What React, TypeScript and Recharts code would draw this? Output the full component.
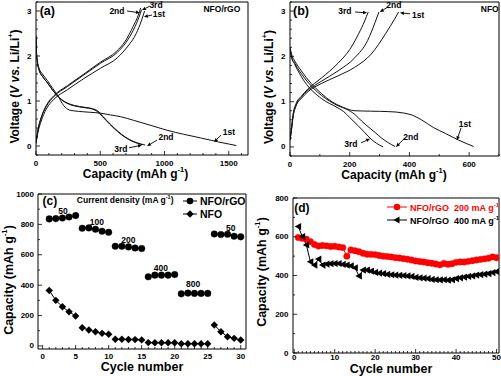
import React from "react";
import {
  LineChart,
  Line,
  XAxis,
  YAxis,
  Label,
  Legend,
  ReferenceArea,
  ReferenceDot,
  ReferenceLine,
} from "recharts";

const FONT = "'Liberation Sans', Arial, Helvetica, sans-serif";

// (a) NFO/rGO galvanostatic curves, [capacity mAh/g, voltage V]
const aDis1 = [[0, 2.45], [4, 2.1], [10, 1.9], [25, 1.72], [50, 1.6], [90, 1.45], [130, 1.28], [170, 1.12], [215, 0.9], [260, 0.8], [330, 0.77], [420, 0.75], [500, 0.73], [580, 0.69], [660, 0.65], [760, 0.57], [880, 0.47], [1020, 0.35], [1150, 0.26], [1280, 0.18], [1420, 0.09], [1560, 0.01]];
const aDis2 = [[0, 2.4], [4, 2.05], [10, 1.88], [25, 1.68], [50, 1.55], [90, 1.4], [130, 1.24], [180, 1.08], [240, 0.96], [300, 0.9], [380, 0.86], [440, 0.83], [480, 0.78], [520, 0.66], [580, 0.48], [640, 0.32], [700, 0.19], [760, 0.1], [810, 0.05], [850, 0.02]];
const aDis3 = [[0, 2.4], [4, 2.05], [10, 1.88], [25, 1.68], [50, 1.55], [90, 1.4], [130, 1.24], [180, 1.07], [240, 0.95], [300, 0.89], [380, 0.85], [440, 0.82], [475, 0.77], [515, 0.66], [575, 0.48], [635, 0.32], [690, 0.2], [745, 0.11], [790, 0.06], [825, 0.03]];
const aCh1 = [[0, 0.05], [15, 0.3], [40, 0.55], [80, 0.82], [140, 1.04], [244, 1.25], [373, 1.5], [503, 1.73], [633, 1.96], [710, 2.2], [780, 2.5], [820, 2.78], [845, 3.0]];
const aCh2 = [[0, 0.08], [15, 0.35], [40, 0.62], [80, 0.88], [140, 1.1], [244, 1.32], [373, 1.58], [503, 1.84], [633, 2.08], [700, 2.3], [762, 2.6], [800, 2.85], [822, 3.03]];
const aCh3 = [[0, 0.08], [15, 0.36], [40, 0.63], [80, 0.9], [140, 1.12], [244, 1.34], [373, 1.6], [500, 1.86], [625, 2.1], [695, 2.33], [755, 2.65], [795, 2.9], [815, 3.07]];

// (b) NFO
const bDis1 = [[0, 2.2], [5, 2.05], [16, 1.9], [38, 1.68], [71, 1.4], [105, 1.18], [140, 1.0], [180, 0.87], [215, 0.8], [270, 0.79], [330, 0.78], [380, 0.75], [410, 0.7], [440, 0.6], [480, 0.43], [520, 0.3], [565, 0.15], [615, 0.01]];
const bDis2 = [[0, 2.2], [5, 2.0], [16, 1.85], [49, 1.52], [105, 1.14], [161, 0.91], [190, 0.83], [217, 0.72], [240, 0.57], [261, 0.45], [285, 0.32], [306, 0.2], [330, 0.09], [352, 0.01]];
const bDis3 = [[0, 2.15], [5, 1.98], [16, 1.82], [49, 1.44], [105, 1.07], [161, 0.86], [180, 0.78], [200, 0.65], [228, 0.47], [250, 0.32], [272, 0.17], [290, 0.08], [312, 0.0]];
const bCh1 = [[0, 0.15], [5, 0.38], [10, 0.65], [20, 0.9], [38, 1.07], [60, 1.22], [105, 1.4], [161, 1.57], [217, 1.76], [272, 2.05], [320, 2.5], [350, 2.82], [364, 2.98]];
const bCh2 = [[0, 0.15], [5, 0.4], [10, 0.68], [20, 0.92], [38, 1.1], [60, 1.25], [105, 1.45], [161, 1.68], [217, 1.97], [260, 2.35], [285, 2.75], [298, 2.98]];
const bCh3 = [[0, 0.15], [5, 0.4], [10, 0.7], [20, 0.95], [38, 1.12], [60, 1.28], [105, 1.52], [161, 1.85], [200, 2.15], [230, 2.5], [250, 2.78], [262, 2.98]];

// curve labels and arrows (data units)
const aNotes = [
  { text: "2nd", x: 630, y: 3.0 },
  { text: "3rd", x: 934, y: 3.13 },
  { text: "1st", x: 957, y: 2.93 },
  { text: "1st", x: 1502, y: 0.31 },
  { text: "2nd", x: 1012, y: 0.2 },
  { text: "3rd", x: 661, y: -0.07 },
];
const aArrows = [
  [708, 3.0, 809, 2.96],
  [887, 3.11, 825, 3.02],
  [903, 2.91, 840, 2.87],
  [1440, 0.24, 1385, 0.09],
  [942, 0.13, 864, 0.0],
  [724, -0.04, 825, 0.02],
];
const bNotes = [
  { text: "3rd", x: 184, y: 3.0 },
  { text: "2nd", x: 348, y: 3.13 },
  { text: "1st", x: 429, y: 2.91 },
  { text: "1st", x: 586, y: 0.51 },
  { text: "2nd", x: 405, y: 0.22 },
  { text: "3rd", x: 204, y: 0.07 },
];
const bArrows = [
  [218, 2.98, 258, 2.96],
  [328, 3.09, 301, 2.98],
  [402, 2.94, 368, 2.96],
  [573, 0.42, 559, 0.15],
  [385, 0.2, 355, 0.0],
  [238, 0.09, 268, 0.18],
];

// (c) rate capability, five cycles per current density
const cCycles = [1, 2, 3, 4, 5, 6, 7, 8, 9, 10, 11, 12, 13, 14, 15, 16, 17, 18, 19, 20, 21, 22, 23, 24, 25, 26, 27, 28, 29, 30];
const cRgo = [836, 838, 842, 849, 858, 775, 777, 768, 755, 748, 656, 656, 652, 645, 641, 455, 466, 466, 466, 470, 343, 348, 346, 346, 346, 737, 733, 735, 722, 718];
const cNfo = [365, 300, 258, 225, 197, 120, 105, 94, 83, 77, 44, 44, 43, 42, 40, 22, 21, 21, 21, 21, 15, 15, 15, 15, 15, 138, 94, 61, 50, 39];
const cRates = [
  { text: "50", x: 3.1, y: 888 },
  { text: "100", x: 8.2, y: 814 },
  { text: "200", x: 13.0, y: 697 },
  { text: "400", x: 17.9, y: 511 },
  { text: "800", x: 22.8, y: 408 },
  { text: "50", x: 28.5, y: 778 },
];

// (d) cycling
const dCycles = [1, 2, 3, 4, 5, 6, 7, 8, 9, 10, 11, 12, 13, 14, 15, 16, 17, 18, 19, 20, 21, 22, 23, 24, 25, 26, 27, 28, 29, 30, 31, 32, 33, 34, 35, 36, 37, 38, 39, 40, 41, 42, 43, 44, 45, 46, 47, 48, 49, 50];
const d200 = [596, 592, 587, 575, 560, 552, 555, 553, 550, 551, 547, 544, 500, 532, 528, 523, 515, 510, 509, 508, 503, 500, 498, 496, 492, 490, 487, 484, 480, 475, 472, 470, 466, 463, 459, 455, 462, 458, 461, 468, 470, 470, 473, 476, 480, 483, 486, 489, 496, 492];
const d400 = [653, 601, 558, 471, 454, 485, 454, 459, 461, 462, 462, 457, 454, 450, 440, 398, 428, 428, 423, 416, 412, 410, 406, 404, 402, 401, 400, 398, 395, 390, 388, 386, 384, 380, 378, 377, 378, 376, 378, 384, 388, 392, 395, 398, 402, 405, 407, 410, 415, 420];

const toXY = (pts: number[][]) => pts.map(([x, y]) => ({ x, y }));
const cData = cCycles.map((c, i) => ({ cycle: c, grp: Math.floor((c - 1) / 5), rgo: cRgo[i], nfo: cNfo[i] }));
const cGroups = [0, 1, 2, 3, 4, 5];
const dData = dCycles.map((c, i) => ({ cycle: c, r200: d200[i], r400: d400[i] }));

const range = (from: number, to: number, step: number) => {
  const out: number[] = [];
  for (let i = 0; from + i * step <= to + 1e-9; i++) out.push(+(from + i * step).toFixed(4));
  return out;
};
const isMajor = (v: number, step: number) => Math.abs(v / step - Math.round(v / step)) < 1e-6;

const xTick = (step: number, dy: number) => (p: any) => {
  const { x, y, payload } = p;
  const major = isMajor(payload.value, step);
  return (
    <g>
      <line x1={x} x2={x} y1={y} y2={y - (major ? 4 : 2)} stroke="#000" strokeWidth={0.8} />
      {major && (
        <text x={x} y={y + dy} textAnchor="middle" dominantBaseline="central" fontSize={8} fontWeight="bold" fontFamily={FONT} fill="#000">
          {payload.value}
        </text>
      )}
    </g>
  );
};

const yTick = (step: number, gap: number) => (p: any) => {
  const { x, y, payload } = p;
  const major = isMajor(payload.value, step);
  return (
    <g>
      <line x1={x} x2={x + (major ? 4 : 2)} y1={y} y2={y} stroke="#000" strokeWidth={0.8} />
      {major && (
        <text x={x - gap} y={y} textAnchor="end" dominantBaseline="central" fontSize={8} fontWeight="bold" fontFamily={FONT} fill="#000">
          {payload.value}
        </text>
      )}
    </g>
  );
};

const capTitle = (size: number) => (
  <>
    Capacity (mAh g<tspan dy={-size * 0.4} fontSize={size * 0.62}>-1</tspan>
    <tspan dy={size * 0.4}>)</tspan>
  </>
);
const voltTitle = (size: number) => (
  <>
    Voltage (<tspan fontStyle="italic">V vs.</tspan> Li/Li<tspan dy={-size * 0.4} fontSize={size * 0.62}>+</tspan>
    <tspan dy={size * 0.4}>)</tspan>
  </>
);

const xTitle = (content: React.ReactNode, size: number, dx: number, dy: number) => (p: any) => {
  const vb = p.viewBox;
  return (
    <text x={vb.x + vb.width / 2 + dx} y={vb.y + dy} textAnchor="middle" dominantBaseline="central" fontSize={size} fontWeight="bold" fontFamily={FONT} fill="#000">
      {content}
    </text>
  );
};
const yTitle = (content: React.ReactNode, size: number, cx: number, dy: number) => (p: any) => {
  const vb = p.viewBox;
  const x = vb.x + cx;
  const y = vb.y + vb.height / 2 + dy;
  return (
    <text x={x} y={y} transform={`rotate(-90 ${x} ${y})`} textAnchor="middle" dominantBaseline="central" fontSize={size} fontWeight="bold" fontFamily={FONT} fill="#000">
      {content}
    </text>
  );
};

const tag = (content: React.ReactNode, size = 8.5, anchor = "middle") => (p: any) => {
  const vb = p.viewBox || {};
  return (
    <text x={vb.x + (vb.width || 0) / 2} y={vb.y + (vb.height || 0) / 2} textAnchor={anchor} dominantBaseline="central" fontSize={size} fontWeight="bold" fontFamily={FONT} fill="#000">
      {content}
    </text>
  );
};

const arrow = (p: any) => {
  const { x1, y1, x2, y2 } = p;
  const a = Math.atan2(y2 - y1, x2 - x1);
  const L = 4;
  const W = 1.8;
  const bx = x2 - L * Math.cos(a);
  const by = y2 - L * Math.sin(a);
  const pts = `${x2},${y2} ${bx - W * Math.sin(a)},${by + W * Math.cos(a)} ${bx + W * Math.sin(a)},${by - W * Math.cos(a)}`;
  return (
    <g>
      <line x1={x1} y1={y1} x2={bx} y2={by} stroke="#000" strokeWidth={0.9} />
      <polygon points={pts} fill="#000" />
    </g>
  );
};

const circleDot = (r: number, color: string) => (p: any) =>
  p.cy == null || p.value == null ? (
    <g key={`c${p.index}`} />
  ) : (
    <circle key={`c${p.index}`} cx={p.cx} cy={p.cy} r={r} fill={color} stroke={color} strokeWidth={0.4} />
  );
const diamondDot = (s: number) => (p: any) =>
  p.cy == null || p.value == null ? (
    <g key={`d${p.index}`} />
  ) : (
    <path key={`d${p.index}`} d={`M${p.cx},${p.cy - s}L${p.cx + s},${p.cy}L${p.cx},${p.cy + s}L${p.cx - s},${p.cy}Z`} fill="#000" />
  );
const leftTriDot = (s: number) => (p: any) => (
  <path key={`t${p.index}`} d={`M${p.cx - s},${p.cy}L${p.cx + s * 0.8},${p.cy - s}L${p.cx + s * 0.8},${p.cy + s}Z`} fill="#000" />
);

const Curves = ({
  series, notes, arrows, xMax, xStep, xMajor, xDx, yAxisW, xAxisH, corner, cornerX, tagName, tagX, width,
}: any) => (
  <LineChart width={width} height={185} margin={{ top: 2, right: 2, bottom: 0, left: 0 }}>
    <XAxis dataKey="x" type="number" domain={[0, xMax]} allowDataOverflow ticks={range(0, xMax, xStep)} interval={0}
      tick={xTick(xMajor, 8)} tickLine={false} tickSize={0} tickMargin={0} axisLine={false} height={xAxisH}>
      <Label content={xTitle(capTitle(12), 12, xDx, 19)} />
    </XAxis>
    <YAxis type="number" domain={[-0.2, 3.2]} allowDataOverflow ticks={range(-0.2, 3.2, 0.2)} interval={0}
      tick={yTick(1, 4.5)} tickLine={false} tickSize={0} tickMargin={0} axisLine={false} width={yAxisW}>
      <Label content={yTitle(voltTitle(12), 12, yAxisW === 36 ? 15 : 19, 8)} />
    </YAxis>
    <ReferenceArea x1={0} x2={xMax} y1={-0.2} y2={3.2} fill="none" stroke="#000" strokeWidth={1} ifOverflow="visible" />
    {series.map((s: number[][], i: number) => (
      <Line key={i} name={`s${i}`} data={toXY(s)} dataKey="y" type="monotone" stroke="#111" strokeWidth={1}
        dot={false} activeDot={false} isAnimationActive={false} />
    ))}
    {arrows.map((a: number[], i: number) => (
      <ReferenceLine key={`ar${i}`} segment={[{ x: a[0], y: a[1] }, { x: a[2], y: a[3] }]} shape={arrow} ifOverflow="visible" />
    ))}
    {notes.map((n: any, i: number) => (
      <ReferenceDot key={`n${i}`} x={n.x} y={n.y} r={0} fill="none" stroke="none" label={tag(n.text, 8.5)} ifOverflow="visible" />
    ))}
    <ReferenceDot x={cornerX} y={3.0} r={0} fill="none" stroke="none" label={tag(corner, 12.5)} ifOverflow="visible" />
    <ReferenceDot x={tagX} y={3.04} r={0} fill="none" stroke="none" label={tag(tagName, 8.5)} ifOverflow="visible" />
  </LineChart>
);

const legendRow = (marker: React.ReactNode, text: React.ReactNode, color: string, w: number) => (
  <div style={{ display: "flex", alignItems: "center", height: 13, color }}>
    <svg width={w} height={10} style={{ marginRight: 3 }}>
      <line x1={0} x2={w} y1={5} y2={5} stroke={color} strokeWidth={1} />
      {marker}
    </svg>
    <span style={{ whiteSpace: "pre" }}>{text}</span>
  </div>
);

const legendC = () => (
  <div style={{ fontFamily: FONT, fontSize: 10.5, fontWeight: "bold", lineHeight: "13px" }}>
    {legendRow(<circle cx={7} cy={5} r={3.3} fill="#000" />, "NFO/rGO", "#000", 14)}
    {legendRow(<path d="M7,1.3L10.7,5L7,8.7L3.3,5Z" fill="#000" />, "NFO", "#000", 14)}
  </div>
);

const legendD = () => (
  <div style={{ fontFamily: FONT, fontSize: 9, fontWeight: "bold", lineHeight: "13px" }}>
    {legendRow(<circle cx={10} cy={5} r={3.3} fill="#f00" />, <>NFO/rGO  200 mA g<sup style={{ fontSize: 6 }}>-1</sup></>, "#f00", 20)}
    {legendRow(<path d="M6.5,5L12.5,1.5L12.5,8.5Z" fill="#000" />, <>NFO/rGO  400 mA g<sup style={{ fontSize: 6 }}>-1</sup></>, "#000", 20)}
  </div>
);

const RateChart = () => (
  <LineChart width={250} height={191} data={cData} margin={{ top: 9, right: 4, bottom: 0, left: 0 }}>
    <XAxis dataKey="cycle" type="number" domain={[-0.7, 30.8]} allowDataOverflow ticks={range(0, 30, 1)} interval={0}
      tick={xTick(5, 7.5)} tickLine={false} tickSize={0} tickMargin={0} axisLine={false} height={27}>
      <Label content={xTitle("Cycle number", 12.5, 0, 17.7)} />
    </XAxis>
    <YAxis type="number" domain={[-20, 1000]} allowDataOverflow ticks={range(0, 1000, 100)} interval={0}
      tick={yTick(200, 4)} tickLine={false} tickSize={0} tickMargin={0} axisLine={false} width={38}>
      <Label content={yTitle(capTitle(12.5), 12.5, 9, 8.5)} />
    </YAxis>
    <ReferenceArea x1={-0.7} x2={30.8} y1={-20} y2={1000} fill="none" stroke="#000" strokeWidth={1} ifOverflow="visible" />
    {cGroups.map((g) => (
      <Line key={`rgo${g}`} name={`NFO/rGO ${g}`} dataKey={(d: any) => (d.grp === g ? d.rgo : null)} stroke="#000" strokeWidth={1}
        dot={circleDot(3.3, "#000")} activeDot={false} isAnimationActive={false} />
    ))}
    {cGroups.map((g) => (
      <Line key={`nfo${g}`} name={`NFO ${g}`} dataKey={(d: any) => (d.grp === g ? d.nfo : null)} stroke="#000" strokeWidth={1}
        dot={diamondDot(3.7)} activeDot={false} isAnimationActive={false} />
    ))}
    {cRates.map((n, i) => (
      <ReferenceDot key={`r${i}`} x={n.x} y={n.y} r={0} fill="none" stroke="none" label={tag(n.text, 8.5)} ifOverflow="visible" />
    ))}
    <ReferenceDot x={1.1} y={954} r={0} fill="none" stroke="none" label={tag("(c)", 12)} ifOverflow="visible" />
    <ReferenceDot x={12.5} y={960} r={0} fill="none" stroke="none"
      label={tag(<>Current density (mA g<tspan dy={-3.5} fontSize={5.5}>-1</tspan><tspan dy={3.5}>)</tspan></>, 8.5)} ifOverflow="visible" />
    <Legend layout="vertical" align="center" verticalAlign="middle" content={legendC}
      wrapperStyle={{ left: 183, top: 9.5, width: 70, height: 26 }} />
  </LineChart>
);

const CycleChart = () => (
  <LineChart width={251} height={191} data={dData} margin={{ top: 13, right: 2, bottom: 0, left: 0 }}>
    <XAxis dataKey="cycle" type="number" domain={[-0.3, 50.6]} allowDataOverflow ticks={range(0, 50, 1)} interval={0}
      tick={xTick(10, 4.8)} tickLine={false} tickSize={0} tickMargin={0} axisLine={false} height={23}>
      <Label content={xTitle("Cycle number", 12.5, -5, 15.5)} />
    </XAxis>
    <YAxis type="number" domain={[0, 800]} allowDataOverflow ticks={range(0, 800, 100)} interval={0}
      tick={yTick(200, 4.5)} tickLine={false} tickSize={0} tickMargin={0} axisLine={false} width={43}>
      <Label content={yTitle(capTitle(12.5), 12.5, 12, -3.5)} />
    </YAxis>
    <ReferenceArea x1={-0.3} x2={50.6} y1={0} y2={800} fill="none" stroke="#000" strokeWidth={1} ifOverflow="visible" />
    <Line dataKey="r200" name="NFO/rGO 200 mA g-1" stroke="#f00" strokeWidth={1} dot={circleDot(3.2, "#f00")} activeDot={false} isAnimationActive={false} />
    <Line dataKey="r400" name="NFO/rGO 400 mA g-1" stroke="#000" strokeWidth={1} dot={leftTriDot(3.6)} activeDot={false} isAnimationActive={false} />
    <ReferenceDot x={1.9} y={747} r={0} fill="none" stroke="none" label={tag("(d)", 12)} ifOverflow="visible" />
    <Legend layout="vertical" align="center" verticalAlign="middle" content={legendD}
      wrapperStyle={{ left: 137, top: 15.5, width: 114, height: 26 }} />
  </LineChart>
);

export default function App() {
  return (
    <div style={{ position: "absolute", left: 0, top: 0, width: 501, height: 376, background: "#fff", fontFamily: FONT }}>
      <div style={{ position: "absolute", left: 0, top: 0 }}>
        <Curves series={[aDis1, aDis2, aDis3, aCh1, aCh2, aCh3]} notes={aNotes} arrows={aArrows} xMax={1650} xStep={100}
          xMajor={500} xDx={-6.5} yAxisW={36} xAxisH={30} corner="(a)" cornerX={88} tagName="NFO/rGO" tagX={1447} width={250} />
      </div>
      <div style={{ position: "absolute", left: 250, top: 0 }}>
        <Curves series={[bDis1, bDis2, bDis3, bCh1, bCh2, bCh3]} notes={bNotes} arrows={bArrows} xMax={700} xStep={100}
          xMajor={200} xDx={-0.5} yAxisW={40} xAxisH={29} corner="(b)" cornerX={37} tagName="NFO" tagX={669} width={251} />
      </div>
      <div style={{ position: "absolute", left: 0, top: 185 }}>
        <RateChart />
      </div>
      <div style={{ position: "absolute", left: 250, top: 185 }}>
        <CycleChart />
      </div>
    </div>
  );
}
